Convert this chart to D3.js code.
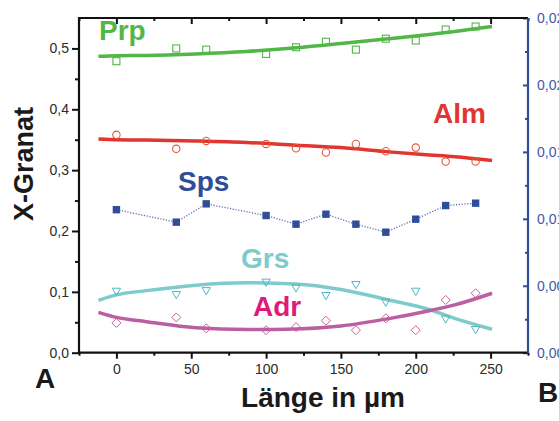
<!DOCTYPE html>
<html><head><meta charset="utf-8">
<script src="https://cdn.jsdelivr.net/npm/d3@7"></script>
<style>
html,body{margin:0;padding:0;background:#fff;}
svg{display:block;font-family:"Liberation Sans",Arial,Helvetica,sans-serif;}
</style></head>
<body><svg id="c" width="559" height="421"></svg>
<script>
// ---- data ----
const xPos = [0, 40, 60, 100, 120, 140, 160, 180, 200, 220, 240];
const prp = [0.479, 0.500, 0.498, 0.491, 0.502, 0.511, 0.498, 0.516, 0.513, 0.531, 0.536];
const alm = [0.358, 0.335, 0.348, 0.343, 0.336, 0.329, 0.343, 0.331, 0.337, 0.314, 0.314];
const sps = [0.235, 0.2145, 0.2446, 0.2254, 0.2112, 0.2276, 0.2112, 0.198, 0.2194, 0.2418, 0.2457];
const grs = [0.102, 0.0965, 0.103, 0.117, 0.1075, 0.095, 0.113, 0.084, 0.102, 0.0565, 0.039];
const adr = [0.049, 0.058, 0.040, 0.037, 0.042, 0.0526, 0.037, 0.0565, 0.037, 0.0867, 0.0977];

const fitX   = [-12, 0, 20, 53, 87, 120, 150, 182, 209, 226, 251];
const prpFit = [0.487, 0.488, 0.4885, 0.491, 0.495, 0.501, 0.508, 0.516, 0.523, 0.528, 0.536];
const almFit = [0.351, 0.350, 0.3495, 0.348, 0.3455, 0.341, 0.337, 0.330, 0.325, 0.322, 0.316];
const grsFit = [0.086, 0.095, 0.102, 0.111, 0.115, 0.113, 0.104, 0.0867, 0.071, 0.0565, 0.0385];
const adrFit = [0.0664, 0.058, 0.051, 0.041, 0.038, 0.039, 0.044, 0.056, 0.069, 0.0785, 0.0977];

const xTicks = [0, 50, 100, 150, 200, 250];
const xMinor = [-25, 25, 75, 125, 175, 225, 275];
const yTicks = [0, 0.1, 0.2, 0.3, 0.4, 0.5];
const yMinor = [0.05, 0.15, 0.25, 0.35, 0.45];
const y2Ticks = [0, 0.005, 0.010, 0.015, 0.020, 0.025];
const y2Minor = [0.0025, 0.0075, 0.0125, 0.0175, 0.0225];

// ---- layout ----
const L = 79, R = 528, T = 18, B = 352.7;
const svg = d3.select("#c");
const x = d3.scaleLinear().domain([-25, 275]).range([L, R]);
const y = d3.scaleLinear().domain([0, 0.55]).range([B, T]);
const y2 = d3.scaleLinear().domain([0, 0.025]).range([B, T]);
const fmt = d3.format(".1f");
const comma = s => s.replace(".", ",");

const cPrp = "#52b747", cAlm = "#e0362f", cSps = "#2f4d99", cGrs = "#7ecbcb", cAdrL = "#b95fa2", cAdrP = "#c8609a";

// axes
const gL = svg.append("g").attr("transform", `translate(${L},0)`)
  .call(d3.axisLeft(y).tickValues(yTicks).tickSize(7).tickPadding(3).tickFormat(d => comma(fmt(d))));
const gLm = svg.append("g").attr("transform", `translate(${L},0)`)
  .call(d3.axisLeft(y).tickValues(yMinor).tickSize(4).tickFormat(""));
const gB = svg.append("g").attr("transform", `translate(0,${B})`)
  .call(d3.axisBottom(x).tickValues(xTicks).tickSize(6).tickPadding(5).tickFormat(d3.format("d")));
const gBm = svg.append("g").attr("transform", `translate(0,${B})`)
  .call(d3.axisBottom(x).tickValues(xMinor).tickSize(3).tickFormat(""));
const gT = svg.append("g").attr("transform", `translate(0,${T})`)
  .call(d3.axisBottom(x).tickValues(xTicks).tickSize(6).tickFormat(""));
const gTm = svg.append("g").attr("transform", `translate(0,${T})`)
  .call(d3.axisBottom(x).tickValues(xMinor).tickSize(3).tickFormat(""));
const gR = svg.append("g").attr("transform", `translate(${R},0)`)
  .call(d3.axisRight(y2).tickValues(y2Ticks).tickSize(-5).tickPadding(9).tickFormat(d => comma(d3.format(".3f")(d))));
const gRm = svg.append("g").attr("transform", `translate(${R},0)`)
  .call(d3.axisRight(y2).tickValues(y2Minor).tickSize(-3).tickFormat(""));

[gL, gLm, gB, gBm, gT, gTm].forEach(g => {
  g.selectAll(".domain").remove();
  g.selectAll("line").attr("stroke", "#111").attr("stroke-width", 2);
  g.selectAll("text").attr("fill", "#2a2a2a").attr("font-size", 14).attr("font-family", "Liberation Sans, Arial, sans-serif");
});
[gR, gRm].forEach(g => {
  g.selectAll(".domain").remove();
  g.selectAll("line").attr("stroke", "#2f4d99").attr("stroke-width", 2);
  g.selectAll("text").attr("fill", "#3f58a6").attr("font-size", 14).attr("font-family", "Liberation Sans, Arial, sans-serif");
});

// frame
svg.append("path").attr("d", `M${R},${T}H${L}V${B}H${R}`).attr("fill", "none").attr("stroke", "#111").attr("stroke-width", 2.2);
svg.append("line").attr("x1", R).attr("x2", R).attr("y1", T).attr("y2", B).attr("stroke", "#2f4d99").attr("stroke-width", 2.2);

// fit lines
const line = d3.line().x(d => x(d[0])).y(d => y(d[1])).curve(d3.curveMonotoneX);
function fit(vals, col, w) {
  svg.append("path").datum(fitX.map((v, i) => [v, vals[i]]))
    .attr("d", line).attr("fill", "none").attr("stroke", col).attr("stroke-width", w).attr("stroke-linecap", "butt");
}
fit(prpFit, cPrp, 3.5);
fit(almFit, cAlm, 3.5);
fit(grsFit, cGrs, 3.5);
fit(adrFit, cAdrL, 3.5);

// Sps dotted line
svg.append("path").datum(xPos.map((v, i) => [v, sps[i]]))
  .attr("d", d3.line().x(d => x(d[0])).y(d => y(d[1])))
  .attr("fill", "none").attr("stroke", cSps).attr("stroke-width", 1.3).attr("stroke-dasharray", "1.2,1.6").attr("opacity", 0.8);

// markers
const pts = arr => xPos.map((v, i) => [v, arr[i]]);
svg.append("g").selectAll("rect").data(pts(prp)).join("rect")
  .attr("x", d => x(d[0]) - 3.5).attr("y", d => y(d[1]) - 3.5).attr("width", 7).attr("height", 7)
  .attr("fill", "none").attr("stroke", cPrp).attr("stroke-width", 1.1);
svg.append("g").selectAll("circle").data(pts(alm)).join("circle")
  .attr("cx", d => x(d[0])).attr("cy", d => y(d[1])).attr("r", 3.7)
  .attr("fill", "none").attr("stroke", "#e8553a").attr("stroke-width", 1.1);
svg.append("g").selectAll("rect").data(pts(sps)).join("rect")
  .attr("x", d => x(d[0]) - 3.7).attr("y", d => y(d[1]) - 3.7).attr("width", 7.4).attr("height", 7.4)
  .attr("fill", cSps);
const tri = d3.symbol().type(d3.symbolTriangle).size(30);
svg.append("g").selectAll("path").data(pts(grs)).join("path")
  .attr("d", tri).attr("transform", d => `translate(${x(d[0])},${y(d[1])}) rotate(180)`)
  .attr("fill", "none").attr("stroke", "#4fb6c4").attr("stroke-width", 1);
svg.append("g").selectAll("path").data(pts(adr)).join("path")
  .attr("d", "M0,-4.5L4.5,0L0,4.5L-4.5,0Z").attr("transform", d => `translate(${x(d[0])},${y(d[1])})`)
  .attr("fill", "none").attr("stroke", cAdrP).attr("stroke-width", 1);

// series labels
const lab = (t, px, py, col) => svg.append("text").text(t).attr("x", px).attr("y", py)
  .attr("fill", col).attr("font-size", 28).attr("font-weight", "bold");
lab("Prp", 99, 40, cPrp);
lab("Alm", 433, 123, cAlm);
lab("Sps", 178, 191, cSps);
lab("Grs", 241, 268, cGrs);
lab("Adr", 253, 316, "#e0197a");

// axis titles
svg.append("text").text("X-Granat").attr("transform", "translate(33,164) rotate(-90)")
  .attr("text-anchor", "middle").attr("font-size", 27).attr("font-weight", "bold").attr("fill", "#1a1a1a");
svg.append("text").text("Länge in µm").attr("x", 323).attr("y", 407)
  .attr("text-anchor", "middle").attr("font-size", 28).attr("font-weight", "bold").attr("fill", "#1a1a1a");
svg.append("text").text("A").attr("x", 35).attr("y", 388).attr("font-size", 28).attr("font-weight", "bold").attr("fill", "#1a1a1a");
svg.append("text").text("B").attr("x", 538).attr("y", 402).attr("font-size", 28).attr("font-weight", "bold").attr("fill", "#1a1a1a");
</script></body></html>
